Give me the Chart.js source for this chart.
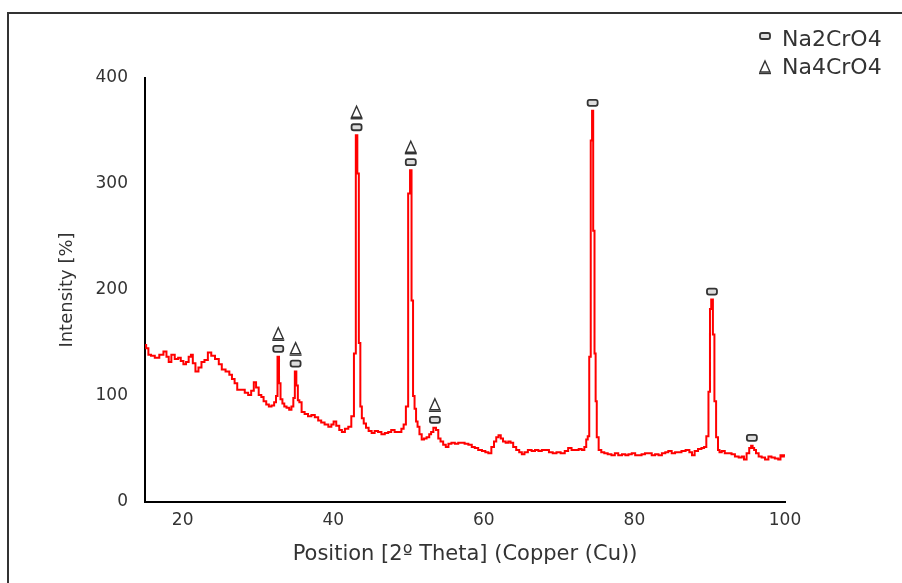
<!DOCTYPE html>
<html>
<head>
<meta charset="utf-8">
<script src="https://cdn.jsdelivr.net/npm/chart.js@4"></script>
<style>
  body { margin: 0; background: #fff; }
  canvas { display: block; }
</style>
</head>
<body>
<canvas id="xrdChart" width="902" height="583"></canvas>
<script>
// XRD pattern: 2-theta angle and intensity
const angles = [
  15.0, 15.3, 15.6, 16.0, 16.6, 17.2, 17.7, 18.0, 18.3, 18.7, 19.2, 19.6, 19.9, 20.3, 20.6, 21.0, 21.2, 21.5, 21.9, 22.3,
  22.7, 23.1, 23.6, 24.0, 24.6, 25.0, 25.4, 26.0, 26.4, 26.7, 27.1, 27.4, 28.0, 28.5, 28.9, 29.3, 29.6, 29.9, 30.3, 30.6,
  30.9, 31.3, 31.6, 32.0, 32.3, 32.5, 32.7, 32.9, 33.1, 33.4, 33.6, 34.0, 34.3, 34.6, 34.8, 35.0, 35.2, 35.4, 35.6, 36.0,
  36.4, 36.9, 37.3, 37.8, 38.2, 38.6, 39.1, 39.6, 39.9, 40.2, 40.6, 41.0, 41.3, 41.8, 42.2, 42.6, 42.9, 43.1, 43.3, 43.5,
  43.7, 43.9, 44.2, 44.5, 44.9, 45.3, 45.7, 46.2, 46.6, 47.1, 47.5, 47.9, 48.4, 48.9, 49.2, 49.5, 49.8, 50.1, 50.3, 50.5,
  50.7, 50.9, 51.1, 51.3, 51.6, 51.9, 52.2, 52.6, 52.9, 53.1, 53.5, 53.8, 54.1, 54.4, 54.8, 55.1, 55.5, 55.9, 56.4, 56.8,
  57.2, 57.7, 58.2, 58.6, 59.0, 59.5, 60.0, 60.4, 60.8, 61.2, 61.5, 61.8, 62.1, 62.4, 62.7, 63.1, 63.4, 63.7, 64.1, 64.5,
  64.9, 65.2, 65.6, 66.1, 66.6, 67.0, 67.5, 67.9, 68.4, 68.9, 69.4, 69.9, 70.5, 71.0, 71.4, 71.9, 72.4, 72.8, 73.2, 73.5,
  73.7, 73.9, 74.1, 74.3, 74.45, 74.6, 74.8, 74.9, 75.1, 75.4, 75.8, 76.2, 76.7, 77.2, 77.6, 78.1, 78.6, 79.0, 79.4, 79.9,
  80.3, 80.7, 81.2, 81.6, 82.1, 82.5, 83.0, 83.4, 83.9, 84.3, 84.7, 85.2, 85.6, 86.0, 86.5, 87.1, 87.5, 87.8, 88.2, 88.7,
  89.1, 89.4, 89.7, 89.97, 90.1, 90.3, 90.55, 90.7, 91.0, 91.2, 91.4, 91.8, 92.2, 92.7, 93.1, 93.6, 94.1, 94.4, 94.7, 95.1,
  95.4, 95.6, 95.8, 96.0, 96.3, 96.7, 97.1, 97.6, 98.0, 98.4, 98.9, 99.3, 99.5, 99.7, 100.0
];
const intensity = [
  148, 145, 139, 138, 136, 139, 142, 137, 132, 139, 135, 136, 133, 130, 132, 137, 139, 131, 123, 127,
  132, 134, 141, 138, 135, 130, 125, 123, 120, 116, 112, 106, 106, 103, 101, 105, 113, 108, 101, 99,
  95, 92, 90, 91, 94, 100, 137, 112, 97, 93, 90, 89, 87, 90, 98, 123, 110, 96, 94, 85,
  83, 81, 82, 80, 77, 75, 73, 71, 73, 76, 72, 68, 66, 69, 71, 81, 140, 346, 310, 150,
  90, 79, 74, 70, 67, 65, 67, 66, 64, 65, 66, 68, 66, 66, 69, 73, 90, 291, 313, 190,
  100, 88, 76, 71, 64, 59, 60, 61, 64, 66, 70, 68, 60, 57, 54, 52, 55, 56, 55, 56,
  56, 55, 54, 52, 51, 49, 48, 47, 46, 52, 57, 61, 63, 60, 57, 56, 57, 56, 52, 49,
  47, 45, 47, 49, 48, 49, 48, 49, 49, 47, 46, 47, 46, 48, 51, 49, 49, 50, 49, 52,
  59, 62, 137, 341, 369, 256, 140, 95, 61, 49, 47, 46, 45, 44, 46, 44, 45, 44, 45, 46,
  44, 44, 45, 46, 46, 44, 45, 44, 46, 47, 48, 46, 47, 47, 48, 49, 47, 44, 48, 50,
  51, 52, 62, 104, 182, 191, 158, 95, 61, 49, 47, 48, 46, 46, 45, 43, 42, 43, 40, 46,
  51, 53, 51, 49, 46, 43, 42, 40, 43, 42, 41, 40, 44, 43, 44
];

// identified peaks
const na2Peaks = [32.7, 35.0, 43.1, 50.3, 53.5, 74.45, 90.3, 95.6];   // Na2CrO4
const na4Peaks = [32.7, 35.0, 43.1, 50.3, 53.5];                      // Na4CrO4
const legendLabels = ['Na2CrO4', 'Na4CrO4'];
const xTicks = [20, 40, 60, 80, 100];

const FONT = 'DejaVu Sans';
const INK = '#333';

function drawRectMark(ctx, x, y) {
  ctx.save();
  ctx.strokeStyle = INK;
  ctx.fillStyle = '#ddd';
  ctx.lineWidth = 1.8;
  ctx.beginPath();
  ctx.roundRect(x - 5, y - 3, 10, 6, 2);
  ctx.fill();
  ctx.stroke();
  ctx.restore();
}

function drawTriMark(ctx, x, y) {
  ctx.save();
  ctx.strokeStyle = INK;
  ctx.lineWidth = 1.4;
  ctx.beginPath();
  ctx.moveTo(x, y - 6);
  ctx.lineTo(x + 5, y + 5);
  ctx.lineTo(x - 5, y + 5);
  ctx.closePath();
  ctx.stroke();
  ctx.beginPath();
  ctx.moveTo(x - 6, y + 6.5);
  ctx.lineTo(x + 6, y + 6.5);
  ctx.stroke();
  ctx.restore();
}

function peakTop(pos) {
  let best = 0;
  angles.forEach((a, i) => {
    if (Math.abs(a - pos) <= 0.3 && intensity[i] > best) best = intensity[i];
  });
  return best;
}

const framePlugin = {
  id: 'frame',
  beforeDraw(chart) {
    const ctx = chart.ctx;
    ctx.save();
    ctx.fillStyle = '#fff';
    ctx.fillRect(0, 0, chart.width, chart.height);
    ctx.strokeStyle = INK;
    ctx.lineWidth = 2;
    ctx.strokeRect(8, 13, 1200, 1000);
    ctx.restore();
  },
  afterDatasetsDraw(chart) {
    const ctx = chart.ctx;
    const xs = chart.scales.x, ys = chart.scales.y;
    na2Peaks.forEach(p => {
      drawRectMark(ctx, xs.getPixelForValue(p), ys.getPixelForValue(peakTop(p)) - 8);
    });
    na4Peaks.forEach(p => {
      drawTriMark(ctx, xs.getPixelForValue(p), ys.getPixelForValue(peakTop(p)) - 23);
    });

    // legend, top right
    drawRectMark(ctx, 765, 36);
    drawTriMark(ctx, 765, 67);
    ctx.save();
    ctx.fillStyle = INK;
    ctx.font = '22px "' + FONT + '"';
    ctx.textBaseline = 'middle';
    ctx.fillText(legendLabels[0], 782, 40);
    ctx.fillText(legendLabels[1], 782, 68);
    ctx.restore();
  }
};

new Chart(document.getElementById('xrdChart'), {
  type: 'line',
  data: {
    datasets: [{
      label: 'XRD',
      data: angles.map((a, i) => ({ x: a, y: intensity[i] })),
      borderColor: '#ff0000',
      borderWidth: 2,
      pointRadius: 0,
      stepped: 'middle',
      fill: false
    }]
  },
  options: {
    responsive: false,
    animation: false,
    devicePixelRatio: 1,
    layout: { padding: { left: 0, right: 117, top: 78, bottom: 0 } },
    plugins: {
      legend: { display: false },
      tooltip: { enabled: false }
    },
    scales: {
      x: {
        type: 'linear',
        min: 15,
        max: 100,
        afterBuildTicks: scale => { scale.ticks = xTicks.map(v => ({ value: v })); },
        afterFit: scale => { scale.height = 81; },
        grid: { display: false, drawTicks: false },
        border: { display: true, color: '#000', width: 2 },
        ticks: { color: INK, font: { family: FONT, size: 17 }, padding: 8 },
        title: {
          display: true,
          text: 'Position [2º Theta] (Copper (Cu))',
          color: INK,
          font: { family: FONT, size: 21 },
          padding: { top: 0, bottom: 16 }
        }
      },
      y: {
        min: 0,
        max: 400,
        afterFit: scale => { scale.width = 145; },
        grid: { display: false, drawTicks: false },
        border: { display: true, color: '#000', width: 2 },
        ticks: { stepSize: 100, color: INK, font: { family: FONT, size: 17 }, padding: 17 },
        title: {
          display: true,
          text: 'Intensity [%]',
          color: INK,
          font: { family: FONT, size: 18 },
          padding: { top: 57, bottom: 0 }
        }
      }
    }
  },
  plugins: [framePlugin]
});
</script>
</body>
</html>
